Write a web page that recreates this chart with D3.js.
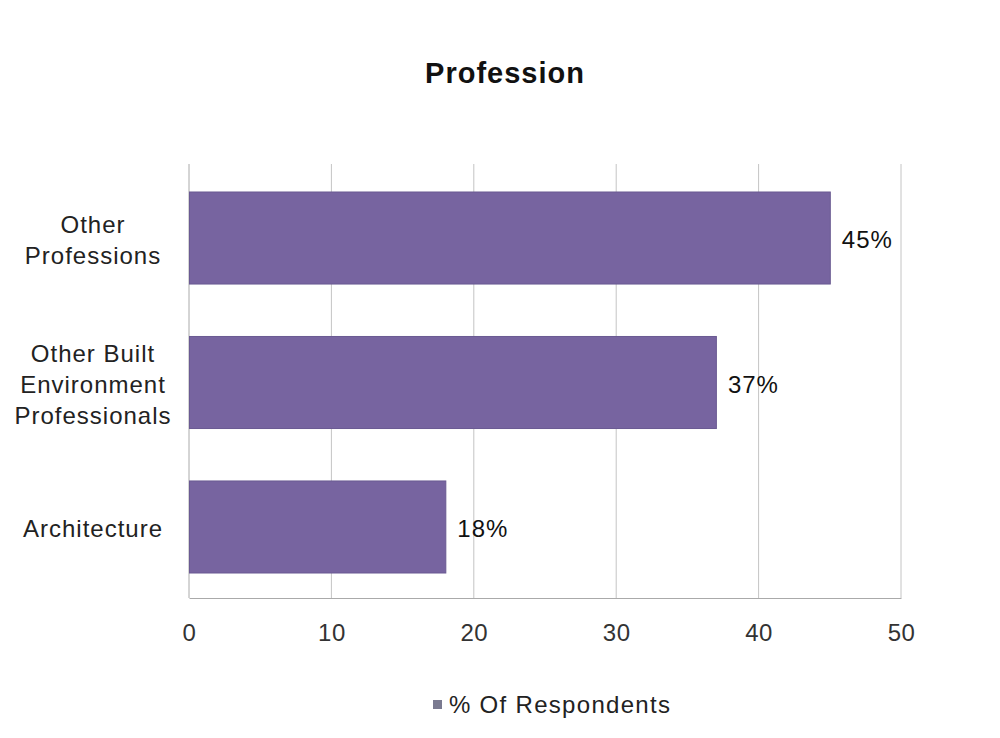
<!DOCTYPE html>
<html><head><meta charset="utf-8">
<script src="https://cdn.jsdelivr.net/npm/d3@7"></script>
<style>body{margin:0;background:#fff;} text{font-family:"Liberation Sans",Arial,sans-serif;}</style>
</head><body><svg id="c" width="1000" height="738"></svg>
<script>
const categories = [["Other","Professions"],["Other Built","Environment","Professionals"],["Architecture"]];
const categoryKeys = ["Other Professions","Other Built Environment Professionals","Architecture"];
const values = [45,37,18];
const ticks = [0,10,20,30,40,50];
const seriesName = "% Of Respondents";
const title = "Profession";

const svg = d3.select("#c");
const m = {l:189, r:901, t:164, b:598};
const x = d3.scaleLinear().domain([0,50]).range([m.l,m.r]);
const y = d3.scaleBand().domain(categoryKeys).range([167,598]).paddingInner(0.363).paddingOuter(0.173);

svg.append("text").attr("x",505).attr("y",83).attr("text-anchor","middle")
  .attr("font-size",29).attr("font-weight","bold").attr("letter-spacing",1).attr("fill","#111").text(title);

// gridlines
svg.append("g").selectAll("line").data(ticks).join("line")
  .attr("x1",d=>x(d)).attr("x2",d=>x(d)).attr("y1",m.t).attr("y2",m.b)
  .attr("stroke",d=>d===0?"#aaa":"#c4c4c4").attr("stroke-width",1);

// x axis
const xa = svg.append("g").attr("transform",`translate(0,${m.b})`)
  .call(d3.axisBottom(x).tickValues(ticks).tickSize(0).tickPadding(26));
xa.select(".domain").attr("stroke","#aaa");
xa.selectAll("text").attr("font-size",24).attr("letter-spacing",0.5).attr("fill","#333")
  .attr("font-family","'Liberation Sans',Arial,sans-serif");

// bars
svg.append("g").selectAll("rect").data(values).join("rect")
  .attr("x",x(0)+0.5).attr("y",(d,i)=>y(categoryKeys[i]))
  .attr("width",d=>x(d)-x(0)).attr("height",y.bandwidth())
  .attr("fill","#7764a0").attr("stroke","#6a5a92").attr("stroke-width",1);

// value labels
svg.append("g").selectAll("text").data(values).join("text")
  .attr("x",d=>x(d)+12).attr("y",(d,i)=>y(categoryKeys[i])+y.bandwidth()/2+2)
  .attr("dy","0.35em").attr("font-size",24).attr("letter-spacing",1).attr("fill","#111").text(d=>d+"%");

// category labels
const lh = 31;
categories.forEach((lines,i)=>{
  const cy = y(categoryKeys[i])+y.bandwidth()/2+2;
  const t = svg.append("text").attr("text-anchor","middle").attr("font-size",24).attr("letter-spacing",1).attr("fill","#222");
  lines.forEach((ln,j)=>{
    t.append("tspan").attr("x",93).attr("y",cy+(j-(lines.length-1)/2)*lh).attr("dy","0.35em").text(ln);
  });
});

// legend
svg.append("rect").attr("x",433).attr("y",700).attr("width",9).attr("height",9).attr("fill","#7a7a90");
svg.append("text").attr("x",449).attr("y",705).attr("dy","0.35em").attr("font-size",24).attr("letter-spacing",1.3).attr("fill","#222").text(seriesName);
</script></body></html>
